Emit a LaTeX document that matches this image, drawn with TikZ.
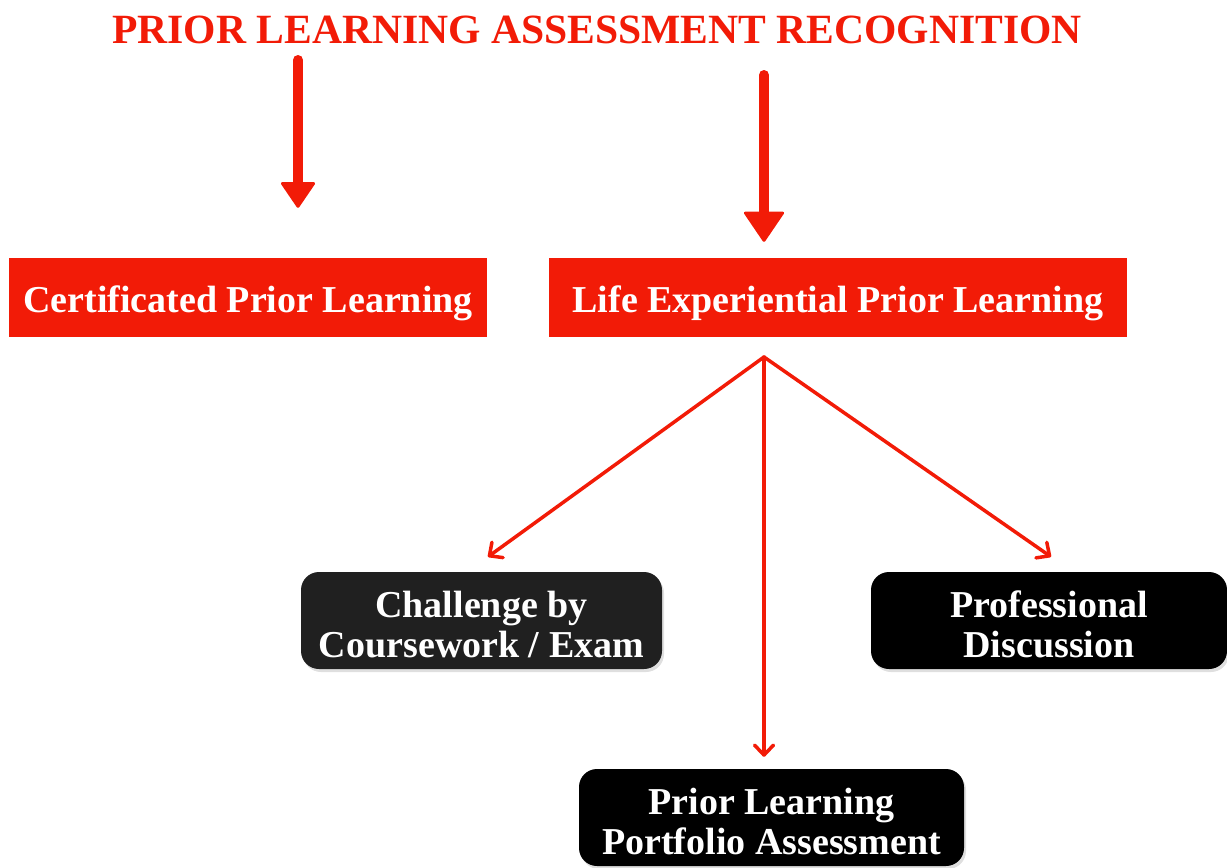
\documentclass[tikz,border=0pt]{standalone}
\usepackage{fontspec}
\setmainfont{Liberation Serif}
\usepackage{xcolor}
\usepackage{tikz}
\usetikzlibrary{arrows.meta,positioning,shadows}
\definecolor{plared}{RGB}{242,27,7}
\definecolor{plagrey}{RGB}{32,32,32}

\begin{document}
\begin{tikzpicture}[x=1pt, y=-1pt,
            every node/.append style = {font=\bfseries\fontsize{38}{40}\selectfont, inner sep=0pt, align=center},
            redbox/.style = {fill=plared, text=white, minimum height=79pt, text height=30pt, text depth=0pt},
            darkbox/.style = {fill=black, text=white, rounded corners=18pt, minimum height=97pt,
                text height=73pt, text depth=0pt,
                drop shadow={shadow xshift=2pt, shadow yshift=-3pt, opacity=.25}},
            bigarrow/.style = {draw=plared, line width=10pt, line cap=round,
                -{Triangle[width=#1, length=0.75*#1, round, line width=3pt]}},
            thinarrow/.style = {draw=plared, line width=3.5pt, line cap=round,
                -{Straight Barb[length=10pt, width=19pt, round]}}]
            \useasboundingbox (0,0) rectangle (1227,868);
            \node[anchor=base, text=plared, font=\bfseries\fontsize{41.6}{44}\selectfont] (title) at (597,43)
                {PRIOR LEARNING ASSESSMENT RECOGNITION};
            \node[redbox, minimum width=478pt] (cert) at (248,297.5) {Certificated Prior Learning};
            \node[redbox, minimum width=578pt] (life) at (838,297.5) {Life Experiential Prior Learning};
            \node[darkbox, fill=plagrey, minimum width=361pt] (challenge) at (481.5,620.5) {Challenge by\\Coursework / Exam};
            \node[darkbox, minimum width=356pt] (discussion) at (1049,620.5) {Professional\\Discussion};
            \node[darkbox, minimum width=385pt] (portfolio) at (771.5,817.5) {Prior Learning\\Portfolio Assessment};
            \coordinate (certin) at (298,60);
            \coordinate (lifein) at (764,75);
            \coordinate (fork) at (764,357);
            \draw[bigarrow=36pt, shorten >=50pt] (certin) -- (certin |- cert.north);
            \draw[bigarrow=42pt, shorten >=16pt] (lifein) -- (lifein |- life.north);
            \draw[thinarrow] (fork) -- ([xshift=6.5pt, yshift=15pt]challenge.north);
            \draw[thinarrow] (fork) -- ([xshift=2pt, yshift=15pt]discussion.north);
            \draw[thinarrow, shorten >=12pt] (fork) -- (fork |- portfolio.north);
        \end{tikzpicture}
\end{document}
